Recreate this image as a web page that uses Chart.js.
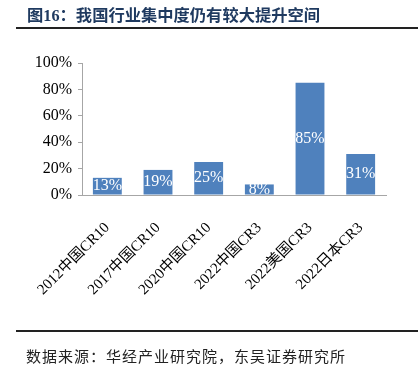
<!DOCTYPE html>
<html>
<head>
<meta charset="utf-8">
<script src="https://cdn.jsdelivr.net/npm/chart.js@4"></script>
<style>
  html, body { margin: 0; padding: 0; background: #fff; }
  #wrap { position: relative; width: 418px; height: 382px; overflow: hidden; }
  #chart { position: absolute; left: 0; top: 0; }
  .title { position: absolute; left: 27px; top: 2px; font: bold 16.3px "Liberation Serif", "Noto Sans CJK SC", serif; color: #1f3a60; white-space: nowrap; }
  .rule { position: absolute; left: 16px; width: 402px; height: 2px; background: #222; }
  .source { position: absolute; left: 26px; top: 345px; font: 15px "Liberation Serif", "Noto Sans CJK SC", serif; letter-spacing: 1px; color: #222; white-space: nowrap; }
</style>
</head>
<body>
<div id="wrap">
  <canvas id="chart" width="418" height="382"></canvas>
  <div class="title">图16：我国行业集中度仍有较大提升空间</div>
  <div class="rule" style="top:27px"></div>
  <div class="rule" style="top:330px"></div>
  <div class="source">数据来源：华经产业研究院，东吴证券研究所</div>
</div>
<script>
// categories and values
const categories = ["2012中国CR10", "2017中国CR10", "2020中国CR10", "2022中国CR3", "2022美国CR3", "2022日本CR3"];
const shares = [13, 19, 25, 8, 85, 31];
const yTicks = [0, 20, 40, 60, 80, 100];

const serif = '"Liberation Serif", "Noto Sans CJK SC", serif';

// white value labels in the middle of each bar
const barLabels = {
    id: "barLabels",
    afterDatasetsDraw(chart) {
        const ctx = chart.ctx;
        const meta = chart.getDatasetMeta(0);
        ctx.save();
        ctx.fillStyle = "#ffffff";
        ctx.font = "16px " + serif;
        ctx.textAlign = "center";
        ctx.textBaseline = "middle";
        meta.data.forEach((bar, i) => {
            const y = (bar.y + bar.base) / 2;
            ctx.fillText(shares[i] + "%", bar.x, y);
        });
        ctx.restore();
    }
};

new Chart(document.getElementById("chart").getContext("2d"), {
    type: "bar",
    data: {
        labels: categories,
        datasets: [{
            data: shares,
            backgroundColor: "#4f81bd",
            borderWidth: 0,
            categoryPercentage: 1,
            barPercentage: 0.57
        }]
    },
    options: {
        responsive: false,
        animation: false,
        layout: { padding: { top: 63, right: 32, bottom: 0, left: 0 } },
        plugins: {
            legend: { display: false },
            tooltip: { enabled: false }
        },
        scales: {
            y: {
                min: 0,
                max: 100,
                afterBuildTicks: scale => { scale.ticks = yTicks.map(v => ({ value: v })); },
                afterFit: scale => { scale.width = 82; },
                border: { color: "#a6a6a6", width: 1 },
                grid: { drawOnChartArea: false, drawTicks: true, tickLength: 4, color: "#a6a6a6" },
                ticks: {
                    color: "#000",
                    padding: 6,
                    font: { family: serif, size: 16 },
                    callback: v => v + "%"
                }
            },
            x: {
                afterFit: scale => { scale.height = 187; },
                border: { color: "#a6a6a6", width: 1 },
                grid: { display: false },
                ticks: {
                    color: "#000",
                    minRotation: 45,
                    maxRotation: 45,
                    padding: 16,
                    font: { family: serif, size: 15 }
                }
            }
        }
    },
    plugins: [barLabels]
});
</script>
</body>
</html>
